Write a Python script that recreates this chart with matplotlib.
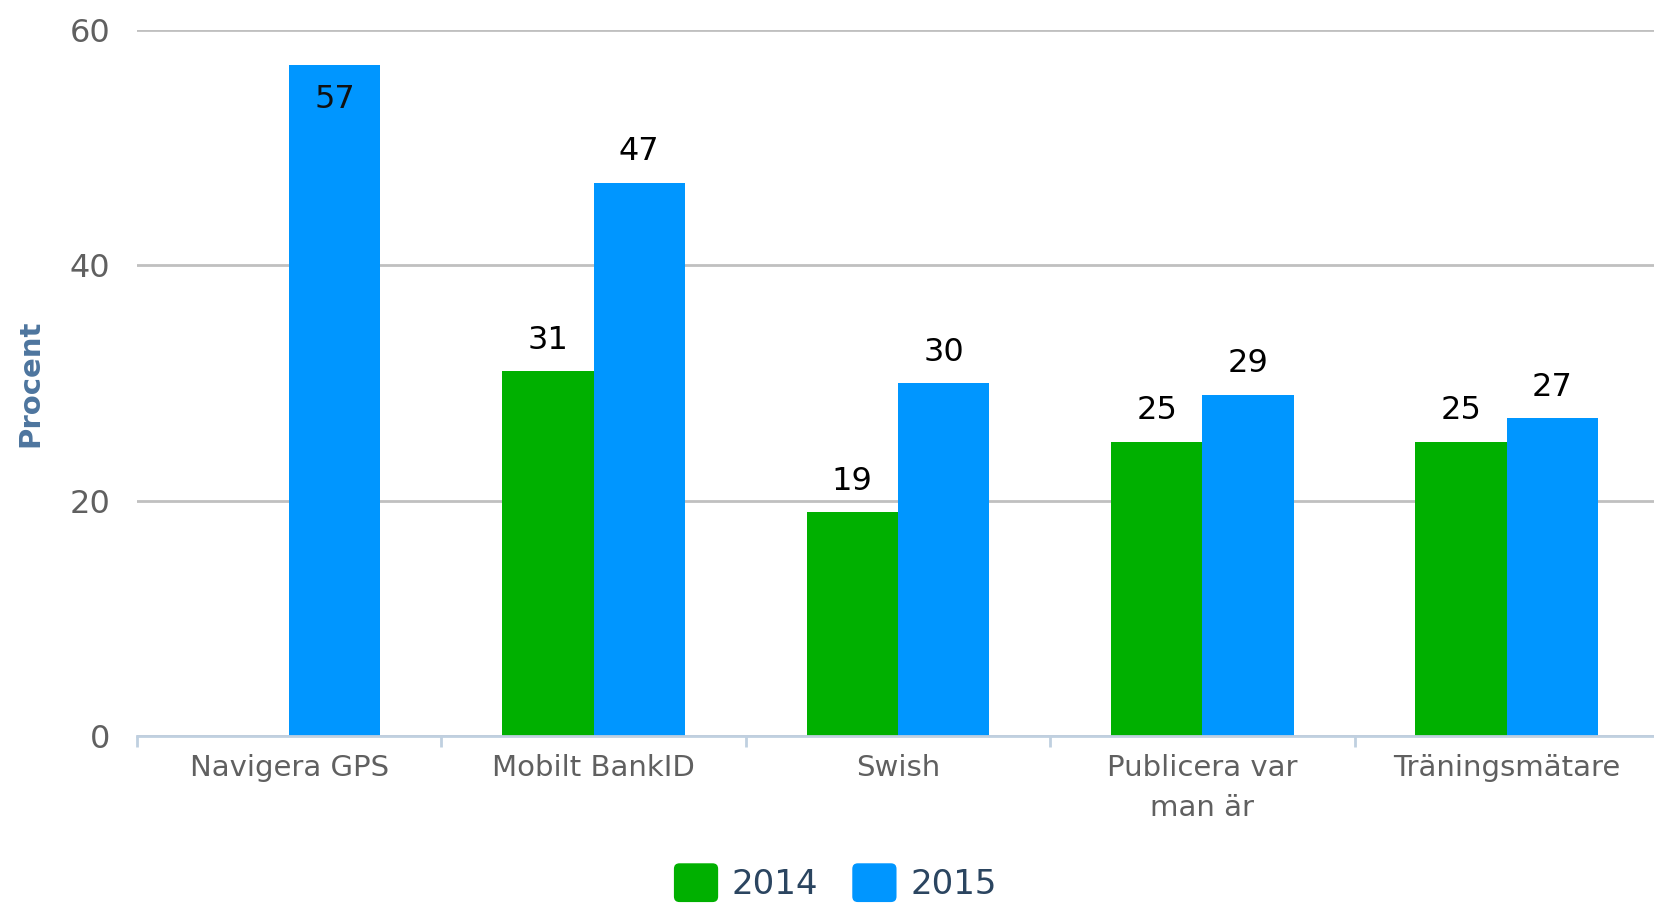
import numpy as np
import matplotlib
matplotlib.use('Agg')
import matplotlib.pyplot as plt
from matplotlib.patches import FancyBboxPatch, Patch
from matplotlib.legend_handler import HandlerPatch

# data
kategorier = ['Navigera GPS', 'Mobilt BankID', 'Swish', 'Publicera var\nman är', 'Träningsmätare']
ar2014 = [np.nan, 31, 19, 25, 25]
ar2015 = [57, 47, 30, 29, 27]
serier = ['2014', '2015']
yticks = [0, 20, 40, 60]

gron = '#00b000'
bla = '#0096ff'
gra_text = '#606060'


class RundHandler(HandlerPatch):
    # rundade rutor i legenden
    def create_artists(self, legend, orig_handle, xdescent, ydescent,
                       width, height, fontsize, trans):
        p = FancyBboxPatch((-xdescent, -ydescent - 3), width, height + 6,
                           boxstyle='round,pad=0,rounding_size=4',
                           facecolor=orig_handle.get_facecolor(),
                           edgecolor='none', transform=trans)
        return [p]


fig = plt.figure(figsize=(16.54, 9.08), dpi=100)
ax = fig.add_axes([0.0828, 0.1894, 0.9202, 0.778])

x = np.arange(len(kategorier))
w = 0.30
b1 = ax.bar(x - w / 2, ar2014, w, color=gron, zorder=3)
b2 = ax.bar(x + w / 2, ar2015, w, color=bla, zorder=3)

# dataetiketter
for i, v in enumerate(ar2014):
    if not np.isnan(v):
        ax.annotate(str(int(v)), (x[i] - w / 2, v), xytext=(0, 11),
                    textcoords='offset points', ha='center', va='bottom',
                    fontsize=23, color='black', zorder=4)
for i, v in enumerate(ar2015):
    if v > 55:
        ax.annotate(str(int(v)), (x[i] + w / 2, v), xytext=(0, -14),
                    textcoords='offset points', ha='center', va='top',
                    fontsize=23, color='#111111', zorder=4)
    else:
        ax.annotate(str(int(v)), (x[i] + w / 2, v), xytext=(0, 11),
                    textcoords='offset points', ha='center', va='bottom',
                    fontsize=23, color='black', zorder=4)

ax.set_xlim(-0.5, len(kategorier) - 0.5)
ax.set_ylim(0, 60)
ax.set_yticks(yticks)
ax.set_yticklabels([str(t) for t in yticks], fontsize=23, color=gra_text)
ax.tick_params(axis='y', length=0, pad=19)
ax.yaxis.grid(True, color='#c0c0c0', linewidth=2, zorder=0)

ax.set_xticks(x)
ax.set_xticklabels(kategorier, fontsize=21, color=gra_text, linespacing=1.55)
ax.set_xticks(np.arange(-0.5, len(kategorier)), minor=True)
ax.tick_params(axis='x', which='major', length=0, pad=13)
ax.tick_params(axis='x', which='minor', length=8, width=2, color='#c0d0e0')

for s in ['top', 'right', 'left']:
    ax.spines[s].set_visible(False)
ax.spines['bottom'].set_color('#c0d0e0')
ax.spines['bottom'].set_linewidth(2)
ax.spines['bottom'].set_zorder(5)

ax.set_ylabel('Procent', fontsize=21, fontweight='bold', color='#4d759e', labelpad=0)
ax.yaxis.set_label_coords(-0.061, 0.5)

handles = [Patch(facecolor=gron), Patch(facecolor=bla)]
fig.legend(handles, serier, loc='center', bbox_to_anchor=(0.505, 0.026),
           ncol=2, frameon=False, fontsize=24.5, handlelength=1.3,
           handleheight=1.0, handletextpad=0.4, columnspacing=1.0,
           borderpad=0.1, labelcolor='#2b4560',
           handler_map={Patch: RundHandler()})

fig.savefig('out.png', dpi=100)
